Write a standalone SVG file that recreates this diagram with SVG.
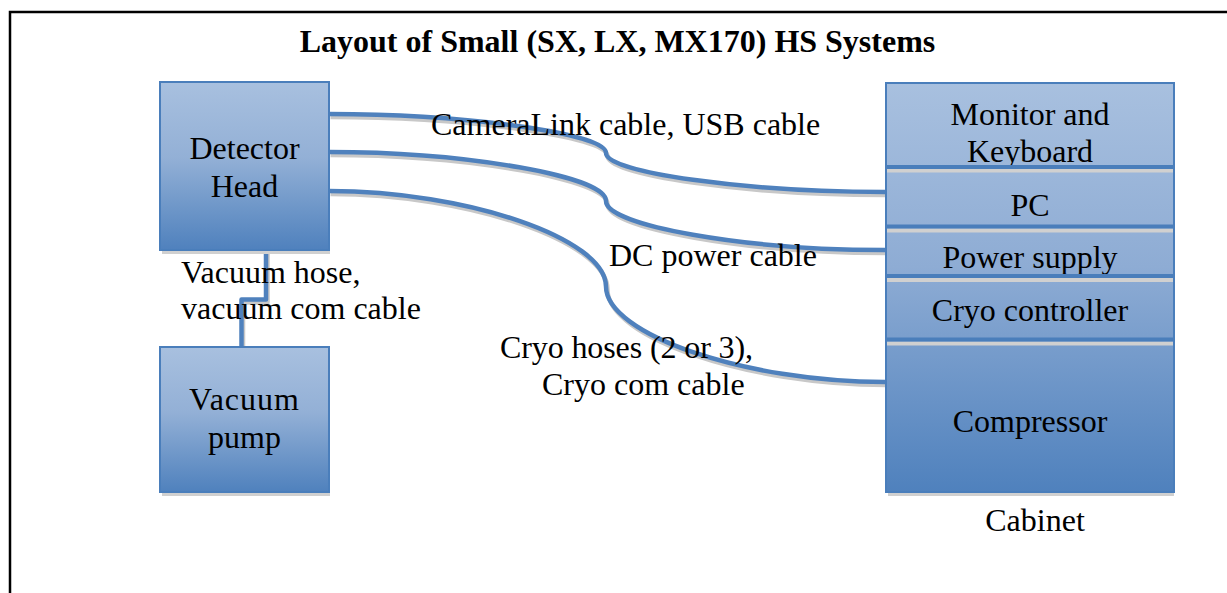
<svg xmlns="http://www.w3.org/2000/svg" width="1227" height="593" viewBox="0 0 1227 593">
<style>
text{font-family:"Liberation Serif","Times New Roman",serif;font-size:32px;fill:#000}
.t{font-weight:bold}
.c{text-anchor:middle}
.box{stroke:#4a7ebb;stroke-width:2}
.sh{fill:#d0d0d0}
.cab{fill:none;stroke:#4f81bd;stroke-width:4.5;stroke-linejoin:round}
.cabs{fill:none;stroke:#c8c8c8;stroke-width:4.5;stroke-linejoin:round}
</style>
<defs>
<linearGradient id="g" x1="0" y1="0" x2="0" y2="1">
<stop offset="0" stop-color="#a8c0df"/>
<stop offset="0.45" stop-color="#93b0d6"/>
<stop offset="1" stop-color="#4f81bd"/>
</linearGradient>
<linearGradient id="gc" gradientUnits="userSpaceOnUse" x1="0" y1="83" x2="0" y2="492">
<stop offset="0" stop-color="#a8c0df"/>
<stop offset="0.45" stop-color="#8eacd4"/>
<stop offset="1" stop-color="#4f81bd"/>
</linearGradient>
</defs>
<rect width="1227" height="593" fill="#fff"/>
<path d="M10,593 V12 H1227" fill="none" stroke="#000" stroke-width="2.5"/>
<text class="t c" x="617.5" y="52">Layout of Small (SX, LX, MX170) HS Systems</text>

<g id="connectors">
<g transform="translate(1.5,3)">
<path class="cabs" d="M266,251 V299.5 H241.5 V347"/>
<path class="cabs" d="M329,114 C467,114 606,133.5 606,153 C606,172.5 745,192 885,192"/>
<path class="cabs" d="M329,152 C467,152 606,176.5 606,201 C606,225.5 745,250 885,250"/>
<path class="cabs" d="M329,191 C467,191 606,238.75 606,286.5 C606,334.25 745,382 885,382"/>
</g>
<path class="cab" d="M266,251 V299.5 H241.5 V347"/>
<path class="cab" d="M329,114 C467,114 606,133.5 606,153 C606,172.5 745,192 885,192"/>
<path class="cab" d="M329,152 C467,152 606,176.5 606,201 C606,225.5 745,250 885,250"/>
<path class="cab" d="M329,191 C467,191 606,238.75 606,286.5 C606,334.25 745,382 885,382"/>
</g>

<g id="detector-head">
<rect class="sh" x="162" y="250" width="168" height="4"/>
<rect class="box" x="160" y="82" width="169" height="168" fill="url(#g)"/>
<text class="c" x="244.5" y="159">Detector</text>
<text class="c" x="244.5" y="197">Head</text>
</g>

<g id="vacuum-pump">
<rect class="sh" x="162" y="492" width="168" height="4"/>
<rect class="box" x="160" y="347" width="169" height="145" fill="url(#g)"/>
<text class="c" x="244.5" y="410" letter-spacing="1">Vacuum</text>
<text class="c" x="244.5" y="448">pump</text>
</g>

<g id="labels">
<text x="181" y="283">Vacuum hose,</text>
<text x="181" y="319">vacuum com cable</text>
<text x="431" y="135">CameraLink cable, USB cable</text>
<text x="609" y="266">DC power cable</text>
<text x="500" y="358" textLength="253">Cryo hoses (2 or 3),</text>
<text x="542" y="395">Cryo com cable</text>
</g>

<g id="cabinet">
<rect class="sh" x="888" y="492" width="286" height="4"/>
<rect class="box" x="886" y="83" width="288" height="409" fill="url(#gc)"/>
<g id="monitor"><text class="c" x="1030" y="125">Monitor and</text><text class="c" x="1030" y="162">Keyboard</text></g>
<g id="pc"><text class="c" x="1030" y="216">PC</text></g>
<g id="power-supply"><text class="c" x="1030" y="268">Power supply</text></g>
<g id="cryo-controller"><text class="c" x="1030" y="321">Cryo controller</text></g>
<g id="compressor"><text class="c" x="1030" y="432">Compressor</text></g>
<g fill="#4a7ebb">
<rect class="sh" x="887" y="169" width="286" height="3.5"/>
<rect x="887" y="165" width="286" height="4"/>
<rect class="sh" x="887" y="228.5" width="286" height="4"/>
<rect x="887" y="224.5" width="286" height="4"/>
<rect class="sh" x="887" y="278" width="286" height="4"/>
<rect x="887" y="274" width="286" height="4"/>
<rect class="sh" x="887" y="341.5" width="286" height="4"/>
<rect x="887" y="337.5" width="286" height="4"/>
</g>
<text class="c" x="1035" y="531">Cabinet</text>
</g>
</svg>
